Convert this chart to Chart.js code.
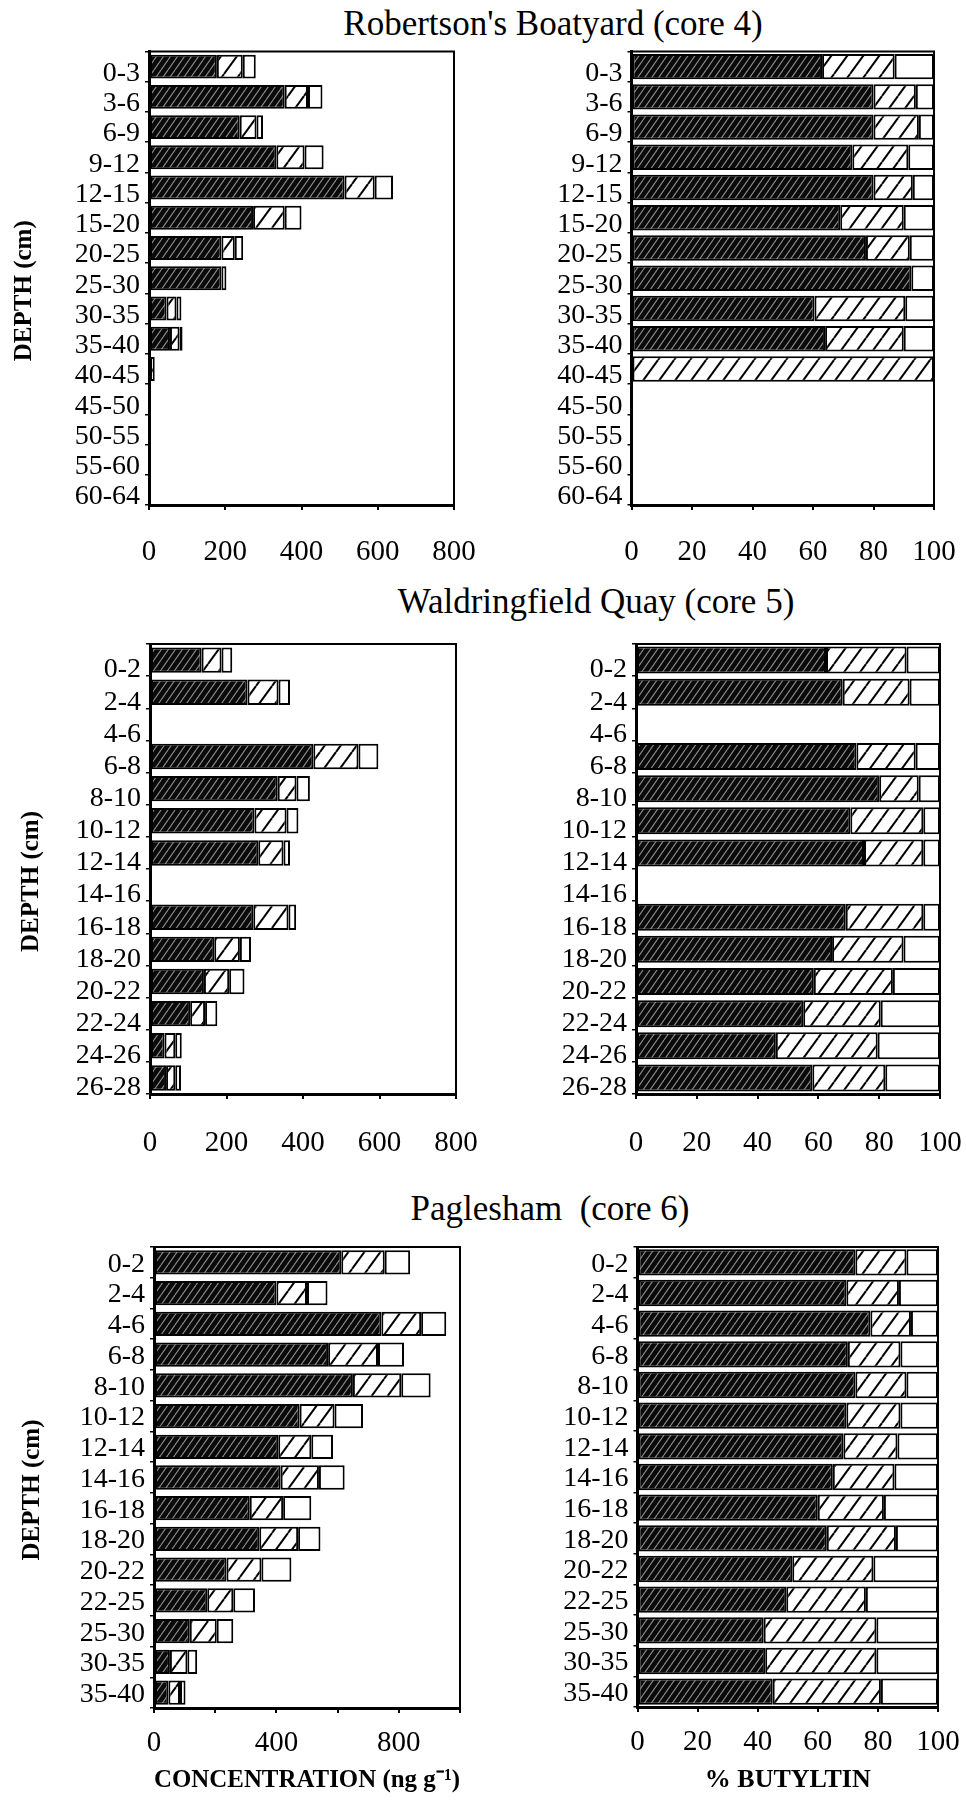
<!DOCTYPE html>
<html>
<head>
<meta charset="utf-8">
<script src="https://cdn.jsdelivr.net/npm/chart.js@4.4.1/dist/chart.umd.min.js"></script>
<style>
    html, body { margin: 0; padding: 0; background: #fff; }
    #page { position: relative; width: 966px; height: 1801px; overflow: hidden; background: #fff; }
    #page canvas { position: absolute; }
    .core-title {
        position: absolute;
        font-family: "Liberation Serif", "Times New Roman", serif;
        font-size: 35px;
        line-height: 35px;
        color: #000;
        white-space: pre;
        transform: translateX(-50%);
    }
</style>
</head>
<body>
<div id="page">
    <div class="core-title" style="left:553px; top:6px;">Robertson's Boatyard (core 4)</div>
    <div class="core-title" style="left:596px; top:584px;">Waldringfield Quay (core 5)</div>
    <div class="core-title" style="left:550px; top:1191px;">Paglesham  (core 6)</div>

    <canvas id="core4-conc"></canvas>
    <canvas id="core4-pct"></canvas>
    <canvas id="core5-conc"></canvas>
    <canvas id="core5-pct"></canvas>
    <canvas id="core6-conc"></canvas>
    <canvas id="core6-pct"></canvas>
</div>

<script>
/* ── Data ─────────────────────────────────────────────────────── */

const depths4 = ['0-3', '3-6', '6-9', '9-12', '12-15', '15-20', '20-25', '25-30',
                 '30-35', '35-40', '40-45', '45-50', '50-55', '55-60', '60-64'];
const conc4Tbt = [178, 356, 238, 334, 513, 273, 190, 190, 46, 55, 0, null, null, null, null];
const conc4Dbt = [68, 61, 44, 74, 79, 83, 35, 0, 26, 25, 15, null, null, null, null];
const conc4Mbt = [34, 38, 17, 50, 48, 44, 22, 13, 13, 8, 0, null, null, null, null];
const pct4Tbt  = [63, 80, 80, 73, 80, 69, 77.5, 92.5, 60.5, 64, 0, null, null, null, null];
const pct4Dbt  = [24, 14, 15, 18.5, 13, 21, 14.5, 0, 30, 26, 100, null, null, null, null];
const pct4Mbt  = [13, 6, 5, 8.5, 7, 10, 8, 7.5, 9.5, 10, 0, null, null, null, null];

const depths5 = ['0-2', '2-4', '4-6', '6-8', '8-10', '10-12', '12-14', '14-16',
                 '16-18', '18-20', '20-22', '22-24', '24-26', '26-28'];
const conc5Tbt = [135, 255, null, 427, 334, 273, 283, null, 270, 168, 141, 105, 38, 42];
const conc5Dbt = [52, 81, null, 118, 49, 84, 66, null, 92, 67, 66, 39, 28, 24];
const conc5Mbt = [28, 30, null, 52, 35, 31, 17, null, 20, 29, 40, 32, 17, 15];
const pct5Tbt  = [62.5, 68, null, 72.5, 80, 70.5, 75, null, 69, 64.5, 58.5, 55, 46, 58];
const pct5Dbt  = [26.5, 22, null, 19.5, 13, 24, 19.5, null, 25.5, 23.5, 26, 25.5, 33.5, 24];
const pct5Mbt  = [11, 10, null, 8, 7, 5.5, 5.5, null, 5.5, 12, 15.5, 19.5, 20.5, 18];

const depths6 = ['0-2', '2-4', '4-6', '6-8', '8-10', '10-12', '12-14', '14-16',
                 '16-18', '18-20', '20-22', '22-25', '25-30', '30-35', '35-40'];
const conc6Tbt = [612, 400, 743, 569, 650, 476, 406, 414, 313, 344, 237, 174, 117, 52, 47];
const conc6Dbt = [142, 100, 130, 163, 158, 114, 108, 125, 109, 127, 114, 85, 88, 57, 38];
const conc6Mbt = [83, 67, 82, 85, 96, 93, 71, 84, 92, 73, 98, 71, 54, 32, 18];
const pct6Tbt  = [72.5, 69.5, 77.5, 70, 72.5, 69.5, 68.5, 65, 60, 63, 51.5, 49.5, 42, 42.5, 45];
const pct6Dbt  = [17, 17.5, 13.5, 17.5, 17, 18, 18, 20.5, 22, 23, 27, 26.5, 37.5, 37, 36];
const pct6Mbt  = [10.5, 13, 9, 12.5, 10.5, 12.5, 13.5, 14.5, 18, 14, 21.5, 24, 20.5, 20.5, 19];

const concTicks45 = [0, 200, 400, 600, 800];
const concTicks6  = [0, 400, 800];
const pctTicks    = [0, 20, 40, 60, 80, 100];

const seriesNames = ['TBT', 'DBT', 'MBT'];

/* ── Helpers ──────────────────────────────────────────────────── */

const SERIF = "'Liberation Serif', 'Times New Roman', serif";
Chart.defaults.font.family = SERIF;
Chart.defaults.color = '#000';

function hatch(ctx, w, h, bg, fg, lw) {
    const c = document.createElement('canvas');
    c.width = w; c.height = h;
    const g = c.getContext('2d');
    g.fillStyle = bg;
    g.fillRect(0, 0, w, h);
    g.strokeStyle = fg;
    g.lineWidth = lw;
    for (const dx of [-w, 0, w]) {
        g.beginPath();
        g.moveTo(dx, h);
        g.lineTo(dx + w, 0);
        g.stroke();
    }
    return ctx.createPattern(c, 'repeat');
}

// top and right edges of the plot box
const framePlugin = {
    id: 'frame',
    afterDraw(chart) {
        const { ctx, chartArea: a } = chart;
        ctx.save();
        ctx.strokeStyle = '#000';
        ctx.lineWidth = 2;
        ctx.beginPath();
        ctx.moveTo(a.left, a.top);
        ctx.lineTo(a.right, a.top);
        ctx.lineTo(a.right, a.bottom);
        ctx.stroke();
        ctx.restore();
    }
};

function buildPanel(p) {
    const canvas = document.getElementById(p.id);
    canvas.width = p.w;
    canvas.height = p.h;
    canvas.style.left = p.x + 'px';
    canvas.style.top = p.y + 'px';
    const ctx = canvas.getContext('2d');

    const dark  = hatch(ctx, 7, 10, '#0a0a0a', 'rgba(255,255,255,0.55)', 1.1);
    const light = hatch(ctx, 16, 22, '#ffffff', '#000000', 2);
    const fills = [dark, light, '#ffffff'];

    const yAxisWidth = p.area.left - p.x;
    const xAxisHeight = p.y + p.h - p.area.bottom;

    return new Chart(ctx, {
        type: 'bar',
        data: {
            labels: p.labels,
            datasets: p.series.map((d, i) => ({
                label: seriesNames[i],
                data: d,
                backgroundColor: fills[i],
                borderColor: '#000',
                borderWidth: 2,
                borderSkipped: false,
                barPercentage: p.barPct,
                categoryPercentage: 1
            }))
        },
        options: {
            indexAxis: 'y',
            responsive: false,
            animation: false,
            devicePixelRatio: 1,
            layout: {
                padding: {
                    top: p.area.top - p.y,
                    right: p.x + p.w - p.area.right,
                    left: 0,
                    bottom: 0
                }
            },
            plugins: { legend: { display: false }, tooltip: { enabled: false } },
            scales: {
                x: {
                    stacked: true,
                    min: 0,
                    max: p.max,
                    border: { display: true, color: '#000', width: 3 },
                    grid: { display: true, drawOnChartArea: false, drawTicks: true,
                            tickLength: 5, color: '#000', lineWidth: 2 },
                    ticks: {
                        stepSize: p.step,
                        autoSkip: false,
                        maxRotation: 0,
                        padding: p.xTickPad,
                        font: { size: 29 },
                        callback: v => p.tickLabels.includes(v) ? String(v) : ''
                    },
                    title: p.xTitle ? {
                        display: true,
                        text: p.xTitle,
                        font: { size: 26, weight: 'bold' },
                        padding: { top: 0, bottom: 5 }
                    } : { display: false },
                    afterFit: a => { a.height = xAxisHeight; a.paddingLeft = 0; a.paddingRight = 0; }
                },
                y: {
                    stacked: true,
                    border: { display: true, color: '#000', width: 3 },
                    grid: { display: true, offset: true, drawOnChartArea: false, drawTicks: true,
                            tickLength: 4, color: '#000', lineWidth: 1.5 },
                    ticks: {
                        autoSkip: false,
                        padding: 5,
                        labelOffset: p.labelOffset,
                        font: { size: 28, lineHeight: 1 }
                    },
                    title: p.yTitle ? {
                        display: true,
                        // trailing spaces nudge the rotated title a little below the axis middle
                        text: p.yTitle + '    ',
                        font: { size: 25, weight: 'bold' },
                        padding: { top: p.yTitlePad, bottom: 0 }
                    } : { display: false },
                    afterFit: a => { a.width = yAxisWidth; a.paddingTop = 0; a.paddingBottom = 0; }
                }
            }
        },
        plugins: [framePlugin]
    });
}

/* ── Panels ───────────────────────────────────────────────────── */

document.addEventListener('DOMContentLoaded', () => {
    buildPanel({
        id: 'core4-conc', x: 0, y: 30, w: 482, h: 560,
        area: { left: 149, right: 454, top: 51.5, bottom: 505 },
        labels: depths4, series: [conc4Tbt, conc4Dbt, conc4Mbt],
        max: 800, step: 200, tickLabels: concTicks45,
        barPct: 0.79, labelOffset: 7, xTickPad: 25,
        yTitle: 'DEPTH (cm)', yTitlePad: 10
    });
    buildPanel({
        id: 'core4-pct', x: 482, y: 30, w: 484, h: 560,
        area: { left: 631.5, right: 934, top: 51.5, bottom: 505 },
        labels: depths4, series: [pct4Tbt, pct4Dbt, pct4Mbt],
        max: 100, step: 20, tickLabels: pctTicks,
        barPct: 0.84, labelOffset: 7, xTickPad: 25
    });
    buildPanel({
        id: 'core5-conc', x: 0, y: 620, w: 482, h: 560,
        area: { left: 150, right: 456, top: 644, bottom: 1094 },
        labels: depths5, series: [conc5Tbt, conc5Dbt, conc5Mbt],
        max: 800, step: 200, tickLabels: concTicks45,
        barPct: 0.79, labelOffset: 10, xTickPad: 27,
        yTitle: 'DEPTH (cm)', yTitlePad: 17
    });
    buildPanel({
        id: 'core5-pct', x: 482, y: 620, w: 484, h: 560,
        area: { left: 636, right: 940, top: 644, bottom: 1094 },
        labels: depths5, series: [pct5Tbt, pct5Dbt, pct5Mbt],
        max: 100, step: 20, tickLabels: pctTicks,
        barPct: 0.84, labelOffset: 10, xTickPad: 27
    });
    buildPanel({
        id: 'core6-conc', x: 0, y: 1225, w: 482, h: 576,
        area: { left: 154, right: 460, top: 1247, bottom: 1708 },
        labels: depths6, series: [conc6Tbt, conc6Dbt, conc6Mbt],
        max: 1000, step: 200, tickLabels: concTicks6,
        barPct: 0.79, labelOffset: 2, xTickPad: 13,
        yTitle: 'DEPTH (cm)', yTitlePad: 18,
        xTitle: 'CONCENTRATION (ng g\u207B\u00B9)'
    });
    buildPanel({
        id: 'core6-pct', x: 482, y: 1225, w: 484, h: 576,
        area: { left: 637.5, right: 938, top: 1247, bottom: 1707 },
        labels: depths6, series: [pct6Tbt, pct6Dbt, pct6Mbt],
        max: 100, step: 20, tickLabels: pctTicks,
        barPct: 0.86, labelOffset: 2, xTickPad: 13,
        xTitle: '% BUTYLTIN'
    });
});
</script>
</body>
</html>
